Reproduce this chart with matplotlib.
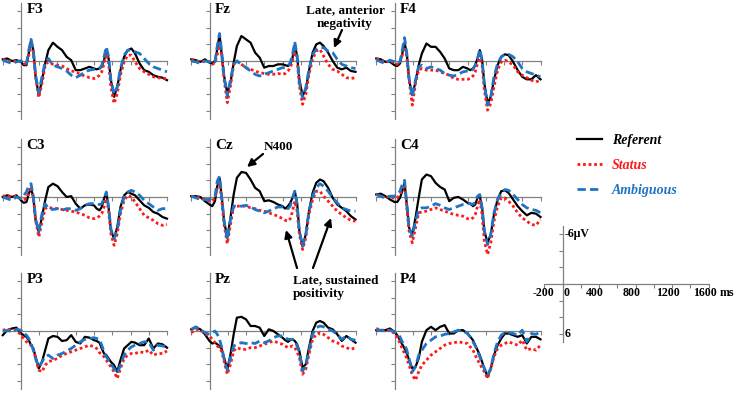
import matplotlib
matplotlib.use('Agg')
import matplotlib.pyplot as plt

# ---------------- data ----------------
times = [-200, -150, -100, -50, 0, 30, 60, 85, 110, 135, 160, 195, 230, 265, 300, 350,
         400, 450, 500, 550, 600, 650, 700, 750, 800, 830, 860, 885, 910, 935, 960, 985,
         1020, 1055, 1090, 1130, 1170, 1210, 1250, 1300, 1350, 1400, 1450, 1500, 1550, 1600]

electrodes = ['F3', 'Fz', 'F4', 'C3', 'Cz', 'C4', 'P3', 'Pz', 'P4']
conditions = ['Referent', 'Status', 'Ambiguous']

# microvolts (negative plotted up)
referent = {
    'F3': [-0.2, -0.3, 0.0, -0.1, 0.1, 0.5, 0.5, -0.9, -2.5, -1.3, 1.9, 4.1, 2.3, 0.3, -1.3, -2.2,
           -1.7, -1.3, -0.5, -0.1, 1.1, 1.1, 0.9, 0.7, 0.9, 1.0, 0.9, 0.7, -0.1, -1.4, -0.3, 2.3,
           4.3, 3.1, 1.1, -0.5, -1.3, -1.5, -0.9, 0.3, 1.1, 1.3, 1.7, 1.9, 2.0, 2.3],
    'Fz': [-0.2, -0.1, 0.1, -0.2, 0.2, 0.3, 0.0, -1.4, -3.2, -0.6, 1.8, 3.9, 2.6, 0.2, -1.8, -3.0,
           -2.6, -2.2, -1.0, -0.4, 0.8, 0.6, 0.6, 0.4, 0.4, 0.5, 0.6, 0.4, -0.4, -2.0, -0.6, 2.2,
           4.2, 3.4, 1.2, -1.0, -2.0, -2.2, -1.8, -1.0, 0.0, 0.8, 1.0, 0.8, 1.2, 1.3],
    'F4': [-0.3, -0.2, 0.1, 0.1, 0.5, 0.6, 0.3, -0.9, -2.2, -0.9, 2.3, 4.1, 2.5, 0.5, -0.9, -2.1,
           -1.7, -1.7, -1.1, -0.3, 0.9, 1.1, 1.1, 0.7, 0.9, 1.1, 0.9, 0.5, -0.3, -1.3, -0.1, 2.7,
           5.1, 4.3, 2.3, 0.5, -0.5, -0.8, -0.7, 0.1, 1.1, 1.9, 2.2, 2.2, 1.7, 2.2],
    'C3': [0.0, -0.2, 0.0, -0.2, 0.4, 0.7, 0.6, -0.4, -1.0, 0.0, 2.8, 4.2, 2.4, 0.4, -1.2, -1.6,
           -1.3, -0.6, 0.0, -0.1, 0.8, 1.4, 1.0, 0.9, 1.0, 1.4, 1.6, 1.2, 0.2, -0.5, 1.2, 4.0,
           5.0, 3.6, 1.2, -0.2, -0.6, -0.4, -0.2, 0.4, 1.0, 1.3, 1.8, 2.0, 2.4, 2.6],
    'Cz': [-0.1, -0.1, 0.0, 0.5, 0.9, 1.1, 0.5, -1.3, -2.3, 0.1, 2.9, 4.9, 2.5, -0.3, -2.3, -3.0,
           -2.9, -2.1, -1.1, -0.7, 0.5, 0.4, 0.6, 0.9, 1.1, 1.4, 1.1, 0.7, 0.1, -0.7, 0.7, 4.1,
           5.9, 4.5, 1.7, -0.5, -1.7, -2.1, -1.9, -1.1, 0.1, 0.9, 1.3, 1.7, 2.3, 2.7],
    'C4': [-0.3, -0.4, -0.1, 0.3, 0.6, 0.6, 0.1, -0.7, -1.7, 0.9, 3.7, 4.5, 2.5, 0.1, -2.1, -2.7,
           -2.5, -1.7, -1.2, -0.9, 0.5, 0.1, 0.0, 0.3, 0.7, 0.8, 1.1, 0.9, 0.1, -0.1, 1.3, 4.1,
           5.5, 4.5, 2.1, 0.3, -0.7, -0.8, -0.5, 0.3, 1.1, 1.7, 2.2, 1.9, 2.0, 2.4],
    'P3': [0.5, -0.1, -0.3, -0.4, 0.3, 0.5, 0.7, 1.1, 1.7, 2.1, 3.1, 4.5, 3.7, 2.3, 0.9, 0.6,
           0.7, 1.2, 1.1, 0.5, 1.3, 1.5, 0.7, 0.8, 1.1, 1.2, 1.4, 2.1, 2.7, 2.9, 3.3, 3.7,
           4.1, 4.9, 3.5, 2.1, 1.7, 1.3, 1.4, 1.7, 1.7, 0.9, 2.1, 1.5, 1.6, 2.0],
    'Pz': [-0.2, -0.4, -0.2, 0.4, 1.2, 1.5, 1.4, 1.6, 1.8, 2.2, 3.2, 4.6, 2.8, 0.4, -1.6, -1.7,
           -1.4, -0.6, -0.6, -0.4, 0.6, -0.2, 0.0, 0.4, 0.8, 1.1, 1.3, 1.1, 1.0, 1.2, 1.6, 2.4,
           4.4, 4.0, 2.0, 0.0, -1.0, -1.2, -1.0, -0.4, -0.2, 0.4, 1.2, 0.6, 1.0, 1.4],
    'P4': [-0.1, -0.1, -0.1, -0.3, 0.1, 0.5, 1.1, 1.6, 2.1, 2.7, 3.5, 4.5, 4.3, 3.3, 1.3, -0.1,
           -0.5, -0.1, -0.5, -0.7, 0.3, 0.3, -0.1, -0.1, 0.3, 0.7, 1.1, 1.7, 2.3, 2.9, 3.7, 4.5,
           5.5, 4.5, 2.9, 1.7, 0.9, 0.3, 0.3, 0.5, 0.7, 0.5, 1.5, 0.7, 0.7, 1.0],
}
status = {
    'F3': [-0.2, -0.1, 0.1, 0.0, 0.0, 0.3, 0.4, -0.7, -1.9, -1.1, 1.9, 4.4, 2.7, 0.5, 0.1, 0.4,
           0.5, 0.6, 0.9, 1.2, 1.3, 1.6, 1.8, 2.0, 2.1, 2.0, 1.7, 1.3, 0.3, -0.9, 0.3, 3.1,
           5.1, 3.9, 1.7, 0.1, -0.7, -0.7, 0.1, 0.9, 1.3, 1.6, 1.9, 2.0, 2.1, 2.1],
    'Fz': [-0.2, 0.0, 0.1, 0.0, 0.1, 0.4, 0.2, -0.8, -2.2, -0.6, 2.2, 5.0, 3.0, 0.4, 0.0, 0.4,
           0.8, 1.0, 1.2, 1.4, 1.5, 1.6, 1.6, 1.5, 1.6, 1.5, 1.2, 0.8, 0.0, -1.4, -0.2, 3.0,
           5.2, 4.0, 1.6, -0.2, -1.2, -1.4, -0.6, 0.4, 1.0, 1.2, 1.6, 2.0, 2.1, 2.0],
    'F4': [-0.3, -0.1, 0.2, -0.1, 0.3, 0.4, 0.1, -0.7, -1.7, -0.5, 2.3, 5.3, 2.7, 1.1, 0.9, 1.1,
           1.1, 1.1, 1.3, 1.5, 1.7, 2.1, 2.2, 2.2, 2.2, 2.1, 1.8, 1.3, 0.3, -0.7, 0.5, 3.5,
           5.9, 5.1, 3.1, 1.1, 0.1, -0.1, 0.1, 0.5, 1.3, 1.7, 2.0, 2.3, 2.5, 2.3],
    'C3': [-0.1, -0.2, 0.0, -0.1, 0.2, 0.3, 0.2, -0.6, -1.2, 0.0, 2.8, 4.8, 3.0, 1.4, 1.2, 1.4,
           1.4, 1.5, 1.6, 1.7, 1.8, 2.0, 2.2, 2.5, 2.6, 2.5, 2.3, 2.0, 1.2, 0.2, 1.6, 4.4,
           5.8, 4.4, 2.0, 0.4, -0.2, 0.0, 0.6, 1.4, 2.2, 2.5, 2.8, 3.2, 3.4, 3.3],
    'Cz': [-0.1, 0.0, 0.1, 0.3, 0.5, 0.5, 0.1, -1.1, -1.7, 0.5, 3.3, 5.6, 3.3, 1.1, 1.1, 1.1,
           1.1, 1.3, 1.4, 1.6, 1.7, 1.9, 2.1, 2.3, 2.6, 2.8, 2.9, 2.6, 1.7, 0.5, 1.7, 4.5,
           6.3, 4.9, 2.1, 0.3, -0.7, -0.7, -0.1, 0.5, 1.1, 1.7, 2.1, 2.5, 2.8, 2.9],
    'C4': [-0.3, -0.1, 0.1, -0.1, 0.2, 0.1, -0.3, -0.9, -1.5, 1.3, 4.1, 5.5, 3.7, 1.9, 1.8, 1.7,
           1.5, 1.3, 1.5, 1.7, 1.9, 2.1, 2.2, 2.3, 2.6, 2.7, 2.5, 2.1, 1.1, 0.3, 2.1, 5.3,
           6.9, 5.5, 2.9, 1.1, 0.1, 0.1, 0.5, 1.1, 1.9, 2.5, 2.9, 3.3, 3.4, 2.7],
    'P3': [-0.1, -0.2, -0.1, -0.1, 0.5, 0.9, 1.3, 1.5, 1.7, 2.1, 3.3, 4.7, 4.9, 4.1, 3.7, 3.5,
           3.3, 2.9, 2.7, 2.5, 2.3, 2.1, 1.9, 1.7, 1.9, 2.1, 2.6, 2.8, 3.1, 3.5, 3.9, 4.3,
           4.9, 5.7, 4.5, 3.3, 2.9, 2.7, 2.7, 2.5, 2.6, 2.3, 2.9, 2.7, 2.7, 2.4],
    'Pz': [0.2, -0.2, -0.1, 0.3, 0.6, 1.0, 1.4, 1.8, 2.0, 2.5, 3.6, 5.2, 4.0, 2.4, 2.0, 2.2,
           2.2, 2.0, 2.0, 1.8, 1.6, 1.4, 1.2, 1.4, 1.6, 1.8, 2.0, 1.9, 1.8, 2.0, 2.5, 3.2,
           5.2, 4.6, 2.8, 1.0, 0.4, 0.2, 0.4, 0.8, 1.2, 1.4, 1.8, 2.0, 2.2, 2.0],
    'P4': [-0.3, -0.1, -0.1, -0.1, 0.3, 0.7, 1.5, 2.1, 2.7, 3.3, 4.1, 5.3, 5.9, 4.9, 4.1, 3.5,
           2.9, 2.5, 2.1, 1.7, 1.5, 1.4, 1.3, 1.4, 1.5, 1.9, 2.3, 2.9, 3.5, 3.9, 4.5, 4.9,
           5.7, 4.5, 3.1, 2.1, 1.7, 1.5, 1.3, 1.5, 1.7, 1.1, 2.3, 2.1, 2.3, 1.7],
}
ambiguous = {
    'F3': [-0.1, 0.1, 0.3, 0.1, 0.0, 0.3, 0.3, -1.3, -2.6, -1.3, 1.7, 3.8, 1.9, 0.1, -0.3, 0.5,
           0.7, 0.9, 1.2, 1.7, 2.0, 1.7, 1.3, 1.1, 1.0, 1.0, 0.9, 0.5, -0.5, -1.7, -0.5, 2.3,
           4.0, 3.1, 0.9, -0.7, -1.3, -1.3, -1.1, -0.9, -0.3, 0.3, 0.7, 0.9, 1.1, 1.3],
    'Fz': [0.0, 0.1, 0.3, 0.0, 0.1, 0.3, 0.1, -1.8, -3.3, -1.0, 2.0, 4.2, 2.2, 0.4, 0.0, 0.4,
           0.8, 1.2, 1.6, 1.8, 1.6, 1.4, 1.2, 1.0, 0.8, 0.8, 0.6, 0.2, -0.8, -2.3, -0.6, 2.6,
           4.4, 3.2, 1.0, -0.8, -1.4, -1.6, -1.6, -1.2, -1.0, -0.2, 0.4, 0.6, 0.8, 0.9],
    'F4': [-0.2, 0.1, 0.3, -0.1, 0.1, 0.3, 0.1, -1.3, -2.8, -0.9, 2.1, 4.3, 2.3, 0.7, 0.5, 0.9,
           0.7, 0.9, 1.1, 1.5, 1.7, 1.8, 1.6, 1.3, 1.2, 1.2, 1.0, 0.5, -0.3, -1.4, -0.1, 2.9,
           5.3, 4.3, 1.9, 0.3, -0.5, -0.8, -0.8, -0.5, 0.1, 0.9, 1.3, 1.5, 1.7, 1.9],
    'C3': [0.0, 0.2, 0.4, 0.0, 0.2, -0.2, -0.6, -1.4, -1.6, 0.0, 2.6, 4.2, 2.0, 0.8, 1.4, 1.5,
           1.4, 1.6, 1.4, 1.4, 1.6, 1.4, 1.0, 0.8, 0.8, 0.9, 0.9, 0.8, 0.2, -0.6, 1.2, 3.8,
           5.0, 4.0, 1.6, 0.0, -0.6, -0.8, -0.6, -0.2, 0.4, 0.8, 1.2, 1.6, 1.4, 1.4],
    'Cz': [-0.1, 0.1, 0.3, 0.3, 0.3, 0.1, -0.1, -1.9, -2.5, 0.1, 2.9, 5.1, 2.7, 1.1, 1.1, 1.1,
           1.0, 1.2, 1.5, 1.7, 1.9, 1.7, 1.4, 1.2, 1.2, 1.3, 1.4, 1.1, 0.1, -0.7, 0.9, 4.1,
           5.9, 4.5, 1.7, -0.1, -1.1, -1.6, -1.3, -0.7, 0.1, 0.7, 1.3, 1.5, 1.7, 1.7],
    'C4': [-0.3, -0.1, 0.1, -0.1, -0.1, -0.3, -0.7, -1.5, -2.0, 0.9, 3.7, 4.7, 2.9, 1.5, 1.3, 1.3,
           1.1, 0.8, 1.0, 1.3, 1.5, 1.3, 1.1, 0.9, 0.8, 0.8, 0.9, 0.6, -0.1, -0.3, 1.3, 4.1,
           5.7, 4.5, 1.9, 0.3, -0.5, -0.9, -0.8, -0.3, 0.3, 0.9, 1.3, 1.5, 1.6, 1.9],
    'P3': [0.1, -0.1, 0.1, -0.2, -0.1, 0.3, 0.5, 0.9, 1.5, 2.3, 3.3, 4.3, 3.7, 3.1, 2.9, 3.3,
           2.9, 2.7, 2.4, 2.1, 1.7, 1.3, 1.0, 0.9, 0.8, 0.9, 1.0, 1.7, 2.5, 3.1, 3.5, 4.0,
           4.5, 5.1, 4.1, 2.9, 2.3, 1.9, 1.7, 1.5, 1.3, 1.3, 2.3, 1.7, 1.8, 1.9],
    'Pz': [-0.2, -0.5, -0.2, 0.2, 0.4, 0.2, 0.0, 0.4, 1.0, 2.0, 3.4, 4.7, 3.2, 1.8, 1.6, 1.4,
           1.5, 1.4, 1.5, 1.2, 1.4, 1.2, 0.8, 0.6, 0.6, 0.8, 1.0, 1.0, 1.0, 1.2, 1.8, 2.6,
           4.8, 4.2, 2.4, 0.4, -0.4, -0.6, -0.5, -0.2, 0.0, 0.4, 1.0, 0.6, 1.0, 1.1],
    'P4': [-0.1, -0.1, 0.0, -0.1, 0.1, 0.3, 0.7, 1.3, 1.6, 2.3, 3.3, 4.9, 4.3, 2.9, 2.3, 1.5,
           1.1, 0.7, 0.6, 0.4, 0.3, 0.1, -0.1, 0.0, 0.3, 0.7, 1.3, 1.8, 2.4, 3.1, 3.9, 4.5,
           5.3, 4.5, 2.7, 1.3, 0.5, 0.2, 0.2, 0.3, 0.5, -0.1, 1.3, 0.3, 0.4, 0.1],
}

scale_xticks = [-200, 0, 400, 800, 1200, 1600]
scale_xticklabels = ['-200', '0', '400', '800', '1200', '1600']

# ---------------- layout ----------------
W, H = 737, 394
fig = plt.figure(figsize=(W / 100, H / 100), dpi=100)
SX = 0.09125     # px per ms
SY = 8.33        # px per microvolt
XL = (-220, 1620)
YL = 7.3
AXCOL = '#808080'
SERIF = 'Liberation Serif'

col_x = [21, 209.5, 394.5]
row_y = [61, 197, 331]

styles = {
    'Referent': dict(color='black', lw=1.6, ls='-', zorder=3),
    'Status': dict(color='#ff1a1a', lw=2.0, ls=(0, (1, 1)), zorder=3),
    'Ambiguous': dict(color='#1f74c4', lw=2.0, ls=(0, (3, 1.5)), zorder=4),
}
series = {'Referent': referent, 'Status': status, 'Ambiguous': ambiguous}


def make_axes(x0, y0):
    left = (x0 - (0 - XL[0]) * SX) / W
    width = (XL[1] - XL[0]) * SX / W
    top = y0 - YL * SY
    height = 2 * YL * SY / H
    bottom = 1 - (top + 2 * YL * SY) / H
    ax = fig.add_axes([left, bottom, width, height])
    ax.set_xlim(*XL)
    ax.set_ylim(YL, -YL)
    ax.patch.set_alpha(0)
    for s in ['top', 'right']:
        ax.spines[s].set_visible(False)
    ax.spines['left'].set_position(('data', 0))
    ax.spines['bottom'].set_position(('data', 0))
    ax.spines['left'].set_bounds(-7, 7)
    ax.spines['bottom'].set_bounds(-200, 1600)
    for s in ['left', 'bottom']:
        ax.spines[s].set_color(AXCOL)
        ax.spines[s].set_linewidth(0.9)
    ax.set_xticks(list(range(-200, 1601, 200)))
    ax.set_yticks([-6, -4, -2, 2, 4, 6])
    ax.tick_params(direction='out', length=3, width=0.8, color=AXCOL,
                   labelbottom=False, labelleft=False)
    return ax


handles = {}
for i, el in enumerate(electrodes):
    r, c = divmod(i, 3)
    ax = make_axes(col_x[c], row_y[r])
    for cond in conditions:
        ln, = ax.plot(times, series[cond][el], **styles[cond])
        handles[cond] = ln
    ax.text(60, -6.2, el, fontfamily=SERIF, fontweight='bold', fontsize=11,
            ha='left', va='center')

# scale bar axes
sax = make_axes(562.7, 284)
tfont = dict(fontfamily=SERIF, fontweight='bold', fontsize=8.6)
for t, lab in zip(scale_xticks, scale_xticklabels):
    shift = 45 if t == 0 else (-10 if t < 0 else -45)
    sax.text(t + shift, 1.1, lab, ha='center', va='center', **tfont)
sax.text(1725, 1.1, 'ms', ha='left', va='center', **tfont)
sax.text(25, -6, '-6μV', ha='left', va='center', **tfont)
sax.text(25, 6, '6', ha='left', va='center', **tfont)

# legend
leg_colors = {'Referent': 'black', 'Status': '#ff1a1a', 'Ambiguous': '#1f74c4'}
leg = fig.legend([handles[c] for c in conditions], conditions,
                 loc='upper left', bbox_to_anchor=(577 / W, 1 - 134 / H),
                 frameon=False, borderpad=0, borderaxespad=0, handlelength=1.8,
                 handletextpad=0.7, labelspacing=0.85,
                 prop=dict(family=SERIF, weight='bold', style='italic', size=10))
for txt, c in zip(leg.get_texts(), conditions):
    txt.set_color(leg_colors[c])


def fp(x, y):
    return (x / W, 1 - y / H)


afont = dict(fontfamily=SERIF, fontweight='bold', fontsize=9.5)
fig.text(*fp(345, 17), 'Late, anterior\nnegativity', ha='center', va='center',
         multialignment='center', linespacing=1.2, **afont)
fig.text(*fp(278, 147), 'N400', ha='center', va='center', **afont)
fig.text(*fp(293, 287.5), 'Late, sustained\npositivity', ha='left', va='center',
         multialignment='left', linespacing=1.2, **afont)

arrow = dict(arrowstyle='-|>', color='black', lw=1.6, mutation_scale=11,
             shrinkA=0, shrinkB=0)
for tail, head in [((342, 30), (334, 48)), ((263, 154), (247, 167)),
                   ((297, 268), (286, 230)), ((313, 268), (331, 218))]:
    fig.add_artist(matplotlib.patches.FancyArrowPatch(
        fp(*tail), fp(*head), transform=fig.transFigure, **arrow))

fig.savefig('out.png', dpi=100)
